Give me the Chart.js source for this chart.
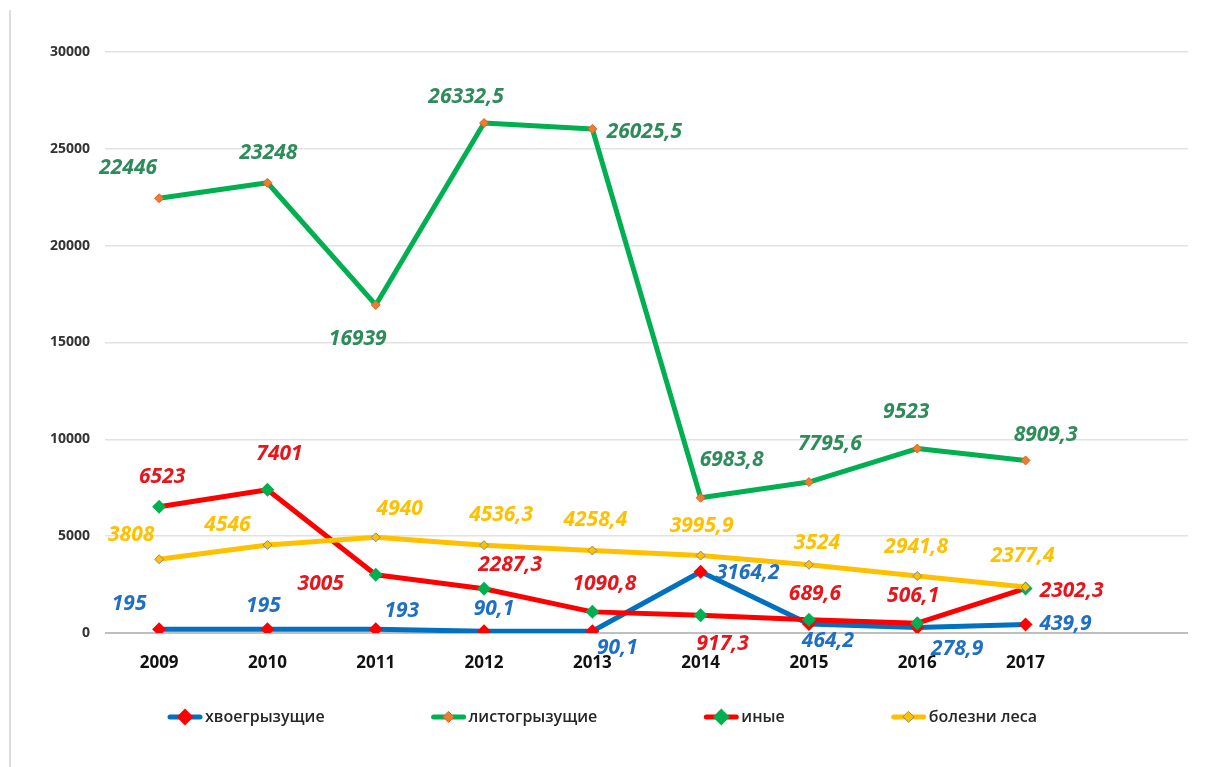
<!DOCTYPE html>
<html>
<head>
<meta charset="utf-8">
<script src="https://cdn.jsdelivr.net/npm/chart.js@4/dist/chart.umd.min.js"></script>
<style>
  html, body { margin: 0; padding: 0; background: #ffffff; }
  #wrap { position: relative; width: 1205px; height: 767px; background: #ffffff; }
  #edge { position: absolute; left: 9px; top: 10px; width: 2px; height: 757px; background: #dcdcdc; }
  canvas { position: absolute; left: 0; top: 0; }
</style>
</head>
<body>
<div id="wrap"><div id="edge"></div><canvas id="c" width="1205" height="767"></canvas></div>
<script>
// ---- data ----
const categories = ['2009', '2010', '2011', '2012', '2013', '2014', '2015', '2016', '2017', ''];
const seriesNames = ['хвоегрызущие', 'листогрызущие', 'иные', 'болезни леса'];
const conifer = [195, 195, 193, 90.1, 90.1, 3164.2, 464.2, 278.9, 439.9];
const leaf = [22446, 23248, 16939, 26332.5, 26025.5, 6983.8, 7795.6, 9523, 8909.3];
const other = [6523, 7401, 3005, 2287.3, 1090.8, 917.3, 689.6, 506.1, 2302.3];
const disease = [3808, 4546, 4940, 4536.3, 4258.4, 3995.9, 3524, 2941.8, 2377.4];
const yMin = 0, yMax = 30000, yStep = 5000;

// ---- styling (label placement relative to each point, in px) ----
const labelOffsets = [
  [[-30,-25],[-4,-23],[26,-18],[10,-22],[25,17],[47,1],[19,17],[40,21],[40,0]],
  [[-31,-30],[1,-30],[-18,34],[-18,-26],[52,3],[31,-38],[21,-38],[-11,-37],[20,-25]],
  [[3,-30],[12,-36],[-55,9],[26,-24],[12,-28],[22,29],[6,-26],[-4,-27],[46,3]],
  [[-28,-24],[-40,-20],[24,-28],[17,-30],[3,-31],[1,-30],[8,-22],[-1,-29],[-3,-31]]
];
const labelColors = ['#1f6fc4', '#2e8b5a', '#e8151b', '#ffc000'];
const FONT = '"Open Sans", "Noto Sans", "DejaVu Sans", sans-serif';

const fmt = v => String(v).replace('.', ',');

const dataLabels = {
  id: 'dataLabels',
  afterDatasetsDraw(chart) {
    const ctx = chart.ctx;
    ctx.save();
    ctx.font = 'italic bold 21px ' + FONT;
    ctx.textAlign = 'center';
    ctx.textBaseline = 'middle';
    chart.data.datasets.forEach((ds, di) => {
      const meta = chart.getDatasetMeta(di);
      meta.data.forEach((pt, i) => {
        const v = ds.data[i];
        if (v === undefined || v === null) return;
        const off = labelOffsets[di][i];
        ctx.fillStyle = labelColors[di];
        ctx.fillText(fmt(v), pt.x + off[0], pt.y + off[1]);
      });
    });
    ctx.restore();
  }
};

function diamond(ctx, x, y, r, fill, stroke) {
  ctx.beginPath();
  ctx.moveTo(x, y - r); ctx.lineTo(x + r, y); ctx.lineTo(x, y + r); ctx.lineTo(x - r, y);
  ctx.closePath();
  ctx.fillStyle = fill; ctx.fill();
  if (stroke) { ctx.lineWidth = 1; ctx.strokeStyle = stroke; ctx.stroke(); }
}

const customLegend = {
  id: 'customLegend',
  afterDraw(chart) {
    const ctx = chart.ctx;
    ctx.save();
    ctx.font = '600 16px ' + FONT;
    ctx.textBaseline = 'middle';
    ctx.textAlign = 'left';
    const lineW = 34, textGap = 3, gap = 107, cy = 717;
    const items = chart.data.datasets.map(ds => ({ ds, w: lineW + textGap + ctx.measureText(ds.label).width }));
    const total = items.reduce((s, it) => s + it.w, 0) + gap * (items.length - 1);
    let x = 602.5 - total / 2;
    items.forEach(({ ds, w }) => {
      ctx.beginPath();
      ctx.lineCap = 'round';
      ctx.lineWidth = 5;
      ctx.strokeStyle = ds.borderColor;
      ctx.moveTo(x + 2, cy); ctx.lineTo(x + lineW - 2, cy);
      ctx.stroke();
      diamond(ctx, x + lineW / 2, cy, ds.pointRadius * 1.2, ds.pointBackgroundColor,
              ds.pointBorderWidth ? ds.pointBorderColor : null);
      ctx.fillStyle = '#262626';
      ctx.fillText(ds.label, x + lineW + textGap, cy);
      x += w + gap;
    });
    ctx.restore();
  }
};

new Chart(document.getElementById('c'), {
  type: 'line',
  data: {
    labels: categories,
    datasets: [
      { label: seriesNames[0], data: conifer, borderColor: '#0070c0', borderWidth: 5,
        pointStyle: 'rectRot', pointRadius: 7, pointBackgroundColor: '#ff0000',
        pointBorderColor: '#ff0000', pointBorderWidth: 0, order: 4 },
      { label: seriesNames[1], data: leaf, borderColor: '#00b050', borderWidth: 5,
        pointStyle: 'rectRot', pointRadius: 4.5, pointBackgroundColor: '#ed7d31',
        pointBorderColor: '#e0602a', pointBorderWidth: 1, order: 3 },
      { label: seriesNames[2], data: other, borderColor: '#ff0000', borderWidth: 5,
        pointStyle: 'rectRot', pointRadius: 7, pointBackgroundColor: '#00b050',
        pointBorderColor: '#00b050', pointBorderWidth: 0, order: 2 },
      { label: seriesNames[3], data: disease, borderColor: '#ffc000', borderWidth: 5,
        pointStyle: 'rectRot', pointRadius: 4.5, pointBackgroundColor: '#ffc000',
        pointBorderColor: '#7f8c8d', pointBorderWidth: 1, order: 1 }
    ]
  },
  options: {
    responsive: false,
    animation: false,
    layout: { padding: { top: 52, right: 17, bottom: 95, left: 0 } },
    plugins: { legend: { display: false }, tooltip: { enabled: false } },
    elements: { line: { tension: 0, borderCapStyle: 'round', borderJoinStyle: 'round' } },
    scales: {
      x: {
        offset: true,
        grid: { display: false },
        border: { display: false },
        ticks: { color: '#111111', font: { family: FONT, size: 17, weight: 'bold' }, padding: 12, maxRotation: 0, autoSkip: false },
        afterFit(scale) { scale.height = 39; }
      },
      y: {
        min: yMin, max: yMax,
        border: { display: false },
        grid: {
          drawTicks: false,
          color: c => (c.tick && c.tick.value === 0) ? '#bfbfbf' : '#e2e2e2',
          lineWidth: c => (c.tick && c.tick.value === 0) ? 2 : 1.5
        },
        ticks: { stepSize: yStep, color: '#333333', font: { family: FONT, size: 14, weight: 'bold' }, padding: 15,
                 callback: v => String(v) },
        afterFit(scale) { scale.width = 105; }
      }
    }
  },
  plugins: [dataLabels, customLegend]
});
</script>
</body>
</html>
